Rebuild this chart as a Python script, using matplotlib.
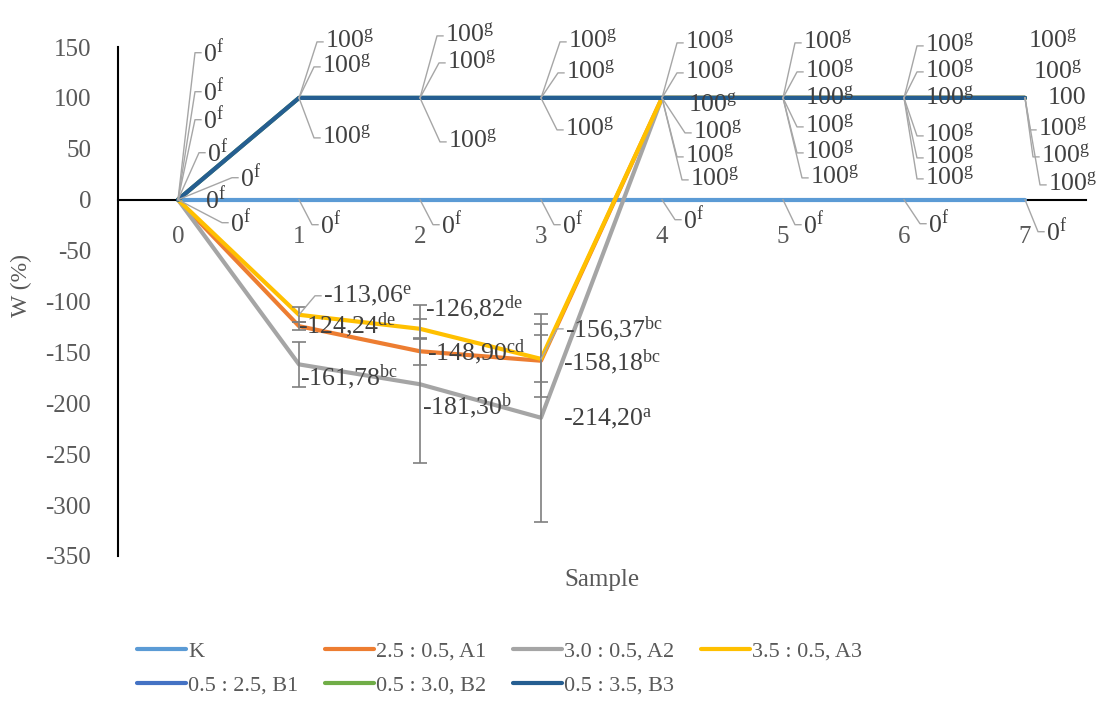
import matplotlib
matplotlib.use("Agg")
import matplotlib.pyplot as plt
import matplotlib.transforms as mtransforms
from matplotlib.lines import Line2D

plt.rcParams['font.family'] = ['Liberation Serif', 'DejaVu Serif']
plt.rcParams['mathtext.fontset'] = 'custom'
plt.rcParams['mathtext.rm'] = 'Liberation Serif'
plt.rcParams['mathtext.it'] = 'Liberation Serif:italic'
plt.rcParams['mathtext.bf'] = 'Liberation Serif:bold'
plt.rcParams['axes.unicode_minus'] = False

# data
samples = [0, 1, 2, 3, 4, 5, 6, 7]
names = ["K", "2.5 : 0.5, A1", "3.0 : 0.5, A2", "3.5 : 0.5, A3",
         "0.5 : 2.5, B1", "0.5 : 3.0, B2", "0.5 : 3.5, B3"]
w_K = [0, 0, 0, 0, 0, 0, 0, 0]
w_A1 = [0, -124.24, -148.90, -158.18, 100, 100, 100, 100]
w_A2 = [0, -161.78, -181.30, -214.20, 100, 100, 100, 100]
w_A3 = [0, -113.06, -126.82, -156.37, 100, 100, 100, 100]
w_B1 = [0, 100, 100, 100, 100, 100, 100, 100]
w_B2 = [0, 100, 100, 100, 100, 100, 100, 100]
w_B3 = [0, 100, 100, 100, 100, 100, 100, 100]

# error bars only on samples 1-3
err_A1 = [4, 13, 36]
err_A2 = [22, 77.5, 102]
err_A3 = [7.5, 10, 23]

let_K = ['f', 'f', 'f', 'f', 'f', 'f', 'f', 'f']
let_A1 = ['f', 'de', 'cd', 'bc', 'g', 'g', 'g', 'g']
let_A2 = ['f', 'bc', 'b', 'a', 'g', 'g', 'g', 'g']
let_A3 = ['f', 'e', 'de', 'bc', 'g', 'g', 'g', 'g']
let_B1 = ['f', 'g', 'g', 'g', 'g', 'g', 'g', '']
let_B2 = ['f', 'g', 'g', 'g', 'g', 'g', 'g', 'g']
let_B3 = ['f', 'g', 'g', 'g', 'g', 'g', 'g', 'g']

colors = ['#5B9BD5', '#ED7D31', '#A5A5A5', '#FFC000', '#4472C4', '#70AD47', '#255E91']

# label offsets in pixels (right, down) from each point
offs = {
    "K":  [(52, 23), (21, 25), (21, 25), (21, 25), (21, 20), (20, 25), (24, 24), (21, 32)],
    "A1": [(27, 0), (-1, -1), (7, 1), (22, 1), (28, 82), (27, 80), (21, 81), (23, 87)],
    "A2": [(62, -22), (1, 13), (2, 22), (22, 1), (23, 59), (22, 55), (21, 60), (16, 59)],
    "A3": [(29, -47), (24, -19), (5, -21), (24, -30), (31, 35), (22, 29), (21, 38), (13, 32)],
    "B1": [(25, -80), (23, 40), (28, 44), (24, 32), (26, 8), (22, 1), (21, 1), (23, 0)],
    "B2": [(25, -108), (23, -31), (27, -35), (25, -25), (23, -25), (22, -26), (21, -26), (8, -25)],
    "B3": [(25, -147), (26, -56), (25, -62), (27, -56), (23, -55), (20, -55), (21, -52), (3, -56)],
}

fig = plt.figure(figsize=(11.04, 7.11), dpi=100)
ax = fig.add_axes([117.5 / 1104, 155 / 711, 968 / 1104, 509 / 711])
ax.set_xlim(-0.5, 7.5)
ax.set_ylim(-350, 150)

values = [w_K, w_A1, w_A2, w_A3, w_B1, w_B2, w_B3]
letters = [let_K, let_A1, let_A2, let_A3, let_B1, let_B2, let_B3]
keys = ["K", "A1", "A2", "A3", "B1", "B2", "B3"]

handles = []
for name, vals, col in zip(names, values, colors):
    h, = ax.plot(samples, vals, color=col, lw=3, solid_capstyle='round', label=name, zorder=3)
    handles.append(h)

for vals, err in [(w_A1, err_A1), (w_A2, err_A2), (w_A3, err_A3)]:
    ax.errorbar(samples[1:4], vals[1:4], yerr=err, fmt='none', ecolor='#7f7f7f',
                elinewidth=1.2, capsize=5, capthick=1.2, zorder=4)

ax.set_xticks(samples)
ax.set_xticklabels([str(s) for s in samples])
ax.set_yticks(range(-350, 151, 50))
ax.tick_params(axis='both', length=0, labelsize=18, labelcolor='#595959')
ax.tick_params(axis='x', pad=19)
ax.tick_params(axis='y', pad=19)
for s in ['top', 'right']:
    ax.spines[s].set_visible(False)
ax.spines['bottom'].set_position(('data', 0))
ax.spines['left'].set_linewidth(1.5)
ax.spines['bottom'].set_linewidth(1.5)

ax.set_xlabel("Sample", fontsize=18, color='#595959', va='center')
ax.xaxis.set_label_coords(0.5, -0.047)
ax.set_ylabel("W (%)", fontsize=17, color='#595959', va='center', ha='center')
ax.yaxis.set_label_coords(-0.099, 0.532)


def fmt(v, letter):
    num = str(int(v)) if float(v).is_integer() else f"{v:.2f}".replace('.', ',')
    if letter:
        return num + r"$^{\mathrm{" + letter + "}}$"
    return num


ident = mtransforms.IdentityTransform()
for key, vals, lets in zip(keys, values, letters):
    for i, (x, v) in enumerate(zip(samples, vals)):
        dx, dy = offs[key][i]
        ax.annotate(fmt(v, lets[i]), xy=(x, v), xytext=(dx, -dy), textcoords='offset pixels',
                    ha='left', va='center', fontsize=18.5, color='#404040', zorder=6,
                    annotation_clip=False)
        if abs(dy) > 12 and dx > 10:
            px, py = ax.transData.transform((x, v))
            tx, ty = px + dx, py - dy
            ax.add_line(Line2D([px, tx - 8, tx - 2], [py, ty, ty], transform=ident,
                               color='#a6a6a6', lw=1, zorder=5, clip_on=False))

order = [0, 4, 1, 5, 2, 6, 3]
ax.legend([handles[k] for k in order], [names[k] for k in order], ncol=4,
          loc='upper left', bbox_to_anchor=(137 / 1104, 0.098), bbox_transform=fig.transFigure,
          frameon=False, fontsize=16, labelcolor='#595959', handlelength=2.2,
          handletextpad=0.1, columnspacing=1.2, labelspacing=0.6, borderpad=0,
          borderaxespad=0)

fig.savefig("out.png", dpi=100)
